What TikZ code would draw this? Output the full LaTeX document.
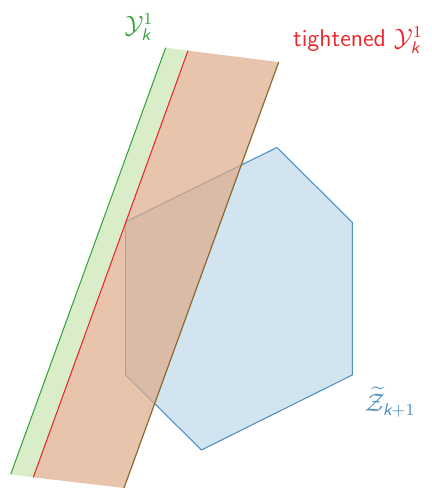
\documentclass[tikz,border=0pt]{standalone}
\usepackage{amsmath,amssymb}
\usepackage{sansmath}
\usepackage{tikz}
\usetikzlibrary{calc}

\definecolor{ygreen}{RGB}{58,163,58}
\definecolor{ygreenfill}{RGB}{217,238,200}
\definecolor{tred}{RGB}{232,40,46}
\definecolor{tredfill}{RGB}{222,171,138}
\definecolor{zblue}{RGB}{74,143,198}
\definecolor{zbluefill}{RGB}{209,228,240}

\newcommand{\kk}{\textit{k}}

\begin{document}
\begin{tikzpicture}[x=0.476pt, y=-0.476pt,
  font=\fontsize{11.6}{13}\selectfont\sffamily\sansmath,
  edge/.style={line width=0.5pt},
  lbl/.style={inner sep=1pt}]
\useasboundingbox (0,0) rectangle (432,490);

% the set Y^1_k and its tightened part
\coordinate (gt) at (165.7,47.7);
\coordinate (rt) at (188,50.7);
\coordinate (bt) at (278.7,62);
\coordinate (bb) at (124,488);
\coordinate (rb) at (33.3,477.3);
\coordinate (gb) at (10.7,474.3);
\fill[ygreenfill] (gt) -- (rt) -- (rb) -- (gb) -- cycle;

% the zonotope Z_{k+1}
\coordinate (h1) at (277,147.5);
\coordinate (h2) at (352.3,222.3);
\coordinate (h3) at (352.3,375);
\coordinate (h4) at (201.5,450);
\coordinate (h5) at (125.7,375);
\coordinate (h6) at (125.7,221.7);
\filldraw[edge, fill=zbluefill, draw=zblue] (h1) -- (h2) -- (h3) -- (h4) -- (h5) -- (h6) -- cycle;

% tightened band on top
\fill[tredfill, opacity=0.7] (rt) -- (bt) -- (bb) -- (rb) -- cycle;
\draw[edge, ygreen] (gt) -- (gb);
\draw[edge, ygreen] (bt) -- (bb);
\draw[edge, tred] (rt) -- (rb);
\draw[edge, tred, opacity=0.5] (bt) -- (bb);

\node[lbl, text=ygreen] (ylab) at (139,27) {$\mathcal{Y}_{\kk}^1$};
\node[lbl, text=tred] (tlab) at (358,40) {tightened $\mathcal{Y}_{\kk}^1$};
\node[lbl, text=zblue] (zlab) at (390,402) {$\widetilde{\mathcal{Z}}_{\kk+1}$};
\end{tikzpicture}
\end{document}
